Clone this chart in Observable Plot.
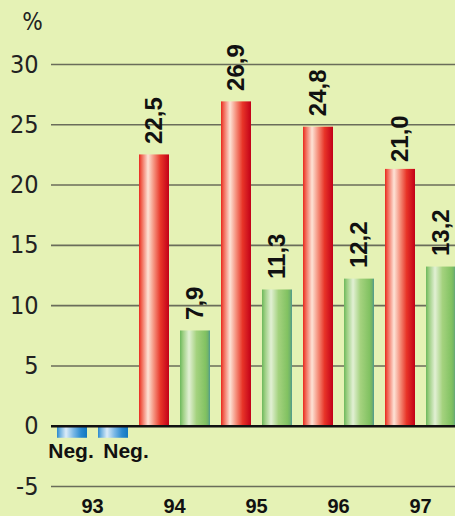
<!DOCTYPE html>
<html><head><meta charset="utf-8">
<script src="https://cdn.jsdelivr.net/npm/d3@7"></script>
<script src="https://cdn.jsdelivr.net/npm/@observablehq/plot@0.6"></script>
<style>
html,body{margin:0;padding:0;background:#e5f2b5;overflow:hidden;}
#chart svg{display:block;}
</style></head><body><div id="chart"></div>
<script>
const years = ["93","94","95","96","97"];
const series = ["A","B"];
// printed values (label positions)
const valuesA = [-1.0, 22.5, 26.9, 24.8, 21.0];
const valuesB = [-1.0, 7.9, 11.3, 12.2, 13.2];
// bar heights as drawn in the picture
const barsA = [-1.0, 22.5, 26.9, 24.8, 21.3];
const barsB = [-1.0, 7.9, 11.3, 12.2, 13.2];
const labelsA = ["Neg.","22,5","26,9","24,8","21,0"];
const labelsB = ["Neg.","7,9","11,3","12,2","13,2"];
const yTicks = [-5,0,5,10,15,20,25,30];
const unitLabel = "%";

const rows = [];
years.forEach((y,i)=>{
  rows.push({year:y, series:"A", value:valuesA[i], bar:barsA[i], label:labelsA[i]});
  rows.push({year:y, series:"B", value:valuesB[i], bar:barsB[i], label:labelsB[i]});
});
const pos = rows.filter(d=>d.value>=0);
const neg = rows.filter(d=>d.value<0);

const numFont = "'Liberation Sans Narrow','DejaVu Sans Condensed',sans-serif";
const boldFont = "'Liberation Sans',Arial,sans-serif";

const chart = Plot.plot({
  width:455, height:516,
  marginLeft:51, marginRight:0, marginTop:64, marginBottom:30,
  style:{background:"#e5f2b5", overflow:"visible"},
  fx:{domain:years, range:[51,461], padding:0},
  x:{domain:series, paddingInner:0.28, paddingOuter:0.14, axis:null},
  y:{domain:[-5,30]},
  marks:[
    Plot.ruleY(yTicks.filter(t=>t!==0), {stroke:"#6a6d5a", strokeWidth:1.6}),
    Plot.barY(pos.filter(d=>d.series==="A"), {fx:"year", x:"series", y:"bar", fill:"url(#gRed)"}),
    Plot.barY(pos.filter(d=>d.series==="B"), {fx:"year", x:"series", y:"bar", fill:"url(#gGreen)"}),
    Plot.barY(neg, {fx:"year", x:"series", y:"bar", fill:"url(#gBlue)"}),
    Plot.ruleY([0], {stroke:"#111", strokeWidth:2.6}),
    Plot.text(pos, {fx:"year", x:"series", y:"value", text:"label", rotate:-90,
      textAnchor:"start", lineAnchor:"middle", dy:-11, fontSize:24, fontWeight:"bold",
      fontFamily:boldFont, fill:"#111"}),
    Plot.text(neg.filter(d=>d.series==="A"), {fx:"year", x:"series", y:"value", text:"label",
      textAnchor:"middle", lineAnchor:"top", dy:5, dx:-1.5, fontSize:21, fontWeight:"bold",
      fontFamily:boldFont, fill:"#111"}),
    Plot.text(neg.filter(d=>d.series==="B"), {fx:"year", x:"series", y:"value", text:"label",
      textAnchor:"middle", lineAnchor:"top", dy:5, dx:12.5, fontSize:21, fontWeight:"bold",
      fontFamily:boldFont, fill:"#111"}),
    Plot.axisY({ticks:yTicks, tickSize:0, tickPadding:13, label:null, tickFormat:d=>String(d),
      fontSize:25, fontFamily:numFont, fill:"#222"}),
    Plot.axisFx({anchor:"bottom", tickSize:0, tickPadding:12, label:null,
      fontSize:20, fontWeight:"bold", fontFamily:boldFont, fill:"#111"}),
    Plot.text([unitLabel], {frameAnchor:"top-left", facetAnchor:"left", dx:-19, dy:-42,
      textAnchor:"middle", lineAnchor:"middle", fontSize:24, fontFamily:numFont, fill:"#222"})
  ]
});

const svg = d3.select(chart);
const defs = svg.insert("defs", ":first-child");
function grad(id, stops){
  const g = defs.append("linearGradient").attr("id", id)
    .attr("x1","0").attr("y1","0").attr("x2","1").attr("y2","0");
  stops.forEach(([o,c])=>g.append("stop").attr("offset",o).attr("stop-color",c));
}
grad("gRed", [[0,"#e8281e"],[0.08,"#f0604e"],[0.3,"#fde3d6"],[0.5,"#f5907c"],[0.72,"#e83428"],[1,"#c20018"]]);
grad("gGreen", [[0,"#6cb85c"],[0.1,"#9ccf82"],[0.3,"#e2f0d4"],[0.55,"#a4d27e"],[0.85,"#82c262"],[0.93,"#72b468"],[1,"#4f9a92"]]);
grad("gBlue", [[0,"#2a88cc"],[0.1,"#6cb0e0"],[0.3,"#dcecf8"],[0.55,"#7ab8e6"],[0.8,"#2a8ad0"],[1,"#1278c0"]]);

document.getElementById("chart").appendChild(chart);
</script></body></html>
